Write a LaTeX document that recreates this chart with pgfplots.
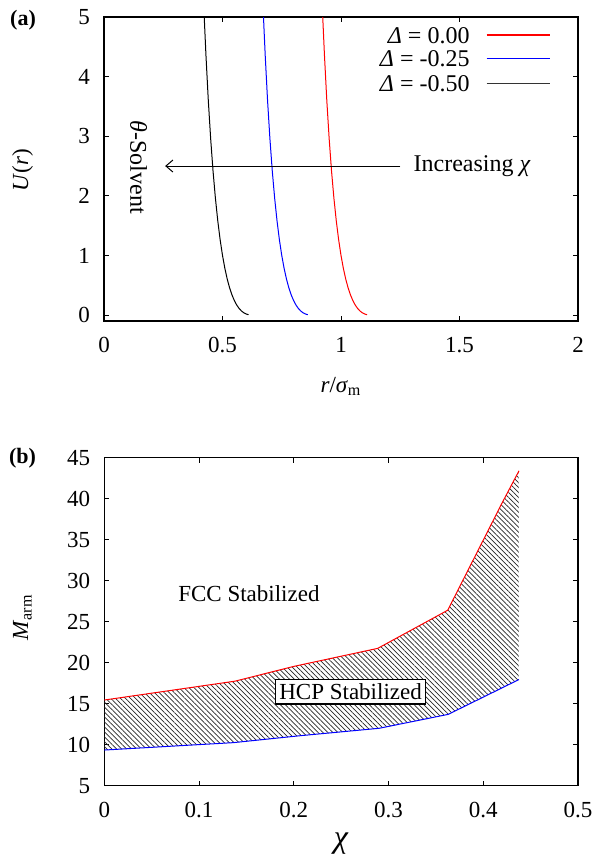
\documentclass[border=0pt]{standalone}
\usepackage{pgfplots}
\pgfplotsset{compat=1.18}
\usepackage{fontspec}
\setmainfont{Liberation Serif}
\usetikzlibrary{arrows.meta,patterns.meta}

\pgfplotsset{
  common/.style={
    scale only axis,
    tick align=inside,
    major tick length=2.5pt,
    axis line style={line width=0.6pt},
    every tick/.style={line width=0.5pt,black},
    ticklabel style={font=\fontsize{11.5}{13}\selectfont},
    xticklabel style={yshift=-4.5pt},
    yticklabel style={xshift=-3.5pt},
    /pgf/number format/assume math mode=true,
    label style={font=\fontsize{11.5}{13}\selectfont},
  }
}

\begin{document}
\begin{tikzpicture}
\path[use as bounding box] (0,0) rectangle (299pt,-427.5pt);

\node[font=\fontsize{11}{13}\selectfont\bfseries] at (11.5pt,-10pt) {(a)};
\node[font=\fontsize{11}{13}\selectfont\bfseries] at (11.3pt,-229pt) {(b)};

\begin{axis}[common,
  at={(52pt,-160.5pt)}, anchor=south west,
  width=237pt, height=152pt,
  xmin=0, xmax=2, ymin=-0.1, ymax=5,
  xtick={0,0.5,1,1.5,2}, ytick={0,1,2,3,4,5},
  xlabel={\textit{r}/\textit{σ}\textsubscript{m}},
  ylabel={\textit{U}(\textit{r})},
  xlabel style={at={(axis description cs:0.5,-0.215)},anchor=center},
  ylabel style={at={(axis description cs:-0.172,0.497)},anchor=center,rotate=0},
]
\addplot[red, line width=0.5pt] coordinates {
(0.9229,5) (0.93,4.373) (0.94,3.606) (0.95,2.961) (0.96,2.418) (0.97,1.963)
(0.98,1.582) (0.99,1.264) (1.00,1.000) (1.01,0.782) (1.02,0.602) (1.03,0.456)
(1.04,0.337) (1.05,0.243) (1.06,0.168) (1.07,0.111) (1.08,0.068) (1.09,0.037)
(1.10,0.017) (1.11,0.005)};
\addplot[blue, line width=0.5pt] coordinates {
(0.6729,5) (0.68,4.373) (0.69,3.606) (0.70,2.961) (0.71,2.418) (0.72,1.963)
(0.73,1.582) (0.74,1.264) (0.75,1.000) (0.76,0.782) (0.77,0.602) (0.78,0.456)
(0.79,0.337) (0.80,0.243) (0.81,0.168) (0.82,0.111) (0.83,0.068) (0.84,0.037)
(0.85,0.017) (0.86,0.005)};
\addplot[black, line width=0.5pt] coordinates {
(0.4229,5) (0.43,4.373) (0.44,3.606) (0.45,2.961) (0.46,2.418) (0.47,1.963)
(0.48,1.582) (0.49,1.264) (0.50,1.000) (0.51,0.782) (0.52,0.602) (0.53,0.456)
(0.54,0.337) (0.55,0.243) (0.56,0.168) (0.57,0.111) (0.58,0.068) (0.59,0.037)
(0.60,0.017) (0.61,0.005)};
% legend
\node[anchor=east, inner sep=0pt, font=\fontsize{12}{13}\selectfont] at (axis description cs:0.772,0.9385) {\textit{Δ} = 0.00};
\node[anchor=east, inner sep=0pt, font=\fontsize{12}{13}\selectfont] at (axis description cs:0.772,0.864) {\textit{Δ} = -0.25};
\node[anchor=east, inner sep=0pt, font=\fontsize{12}{13}\selectfont] at (axis description cs:0.772,0.782) {\textit{Δ} = -0.50};
\draw[red, line width=0.75pt] (axis description cs:0.807,0.94) -- (axis description cs:0.941,0.94);
\draw[blue, line width=0.75pt] (axis description cs:0.807,0.864) -- (axis description cs:0.941,0.864);
\draw[black!80, line width=0.75pt] (axis description cs:0.807,0.782) -- (axis description cs:0.941,0.782);
\draw[line width=0.5pt, -{Straight Barb[length=3.5pt,width=6pt]}] (axis cs:1.25,2.5) -- (axis cs:0.258,2.5);
\node[anchor=west, inner sep=0pt, font=\fontsize{12}{13}\selectfont] at (axis cs:1.305,2.5) {Increasing \textit{χ}};
\node[rotate=-90, inner sep=0pt, font=\fontsize{12}{13}\selectfont] at (axis cs:0.146,2.48) {\textit{θ}-Solvent};
\end{axis}

\begin{axis}[common,
  at={(52.15pt,-392.85pt)}, anchor=south west,
  width=236.85pt, height=164pt,
  xmin=0, xmax=0.5, ymin=5, ymax=45,
  xtick={0,0.1,0.2,0.3,0.4,0.5}, ytick={5,10,...,45},
  xticklabel style={/pgf/number format/fixed},
  xlabel={\textit{χ}},
  ylabel={\textit{M}\textsubscript{arm}},
  xlabel style={at={(axis description cs:0.5,-0.175)},anchor=center,font=\fontsize{16}{18}\selectfont},
  ylabel style={at={(axis description cs:-0.173,0.513)},anchor=center},
]
\addplot[draw=none, pattern={Lines[angle=-45,distance=1.75pt,line width=0.35pt]}, pattern color=black!85] coordinates {
(0,15.45) (0.138,17.75) (0.2,19.55) (0.2886,21.75) (0.3625,26.4) (0.4195,39.4) (0.4377,43.4)
(0.4377,17.95) (0.363,13.7) (0.29,12.0) (0.207,11.1) (0.136,10.25) (0,9.35)} -- cycle;
\addplot[red, line width=0.5pt] coordinates {
(0,15.45) (0.138,17.75) (0.2,19.55) (0.2886,21.75) (0.3625,26.4) (0.4195,39.4) (0.4377,43.4)};
\addplot[blue, line width=0.5pt] coordinates {
(0,9.35) (0.136,10.25) (0.207,11.1) (0.29,12.0) (0.363,13.7) (0.4377,17.95)};
\node[font=\fontsize{11.5}{13}\selectfont] at (axis cs:0.1527,28.4) {FCC Stabilized};
\node[draw, fill=white, line width=0.6pt, inner sep=2pt, font=\fontsize{11.5}{13}\selectfont] at (axis cs:0.26,16.45) {HCP Stabilized};
\end{axis}
\end{tikzpicture}
\end{document}
